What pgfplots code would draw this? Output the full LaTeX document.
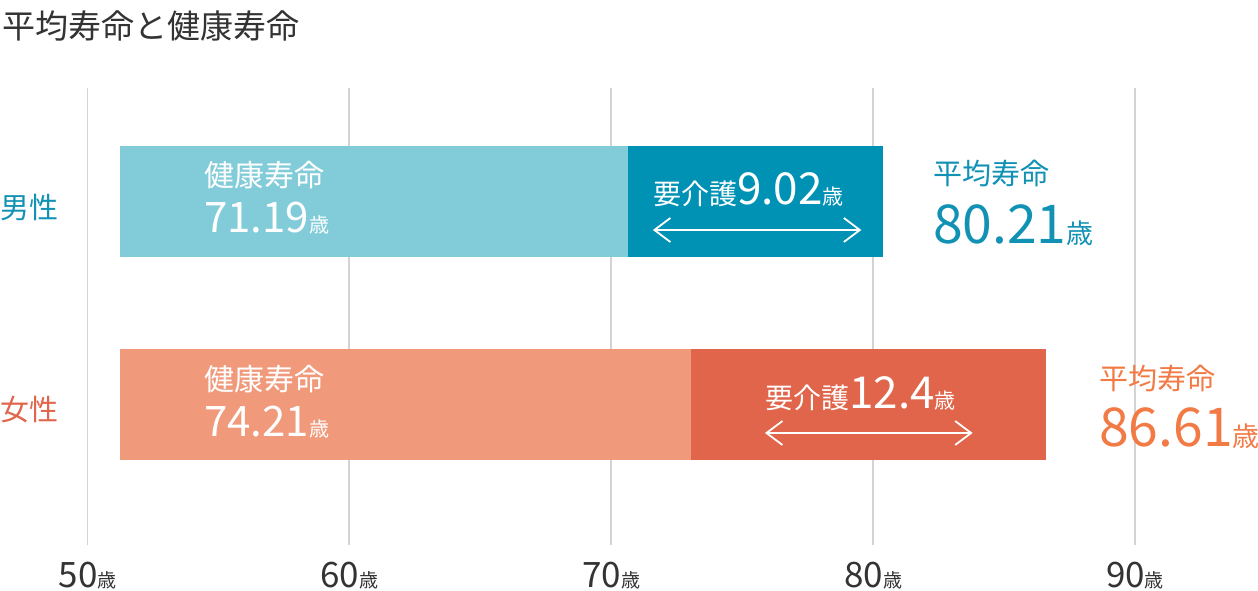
\documentclass[border=0pt]{standalone}
\usepackage{pgfplots}
\pgfplotsset{compat=1.18}
\usepackage{fontspec}
\setmainfont{Noto Sans CJK JP}
\usetikzlibrary{arrows.meta}
\definecolor{mh}{HTML}{82CCDA}
\definecolor{mc}{HTML}{0092B5}
\definecolor{fh}{HTML}{F09A7B}
\definecolor{fc}{HTML}{E0654B}
\definecolor{mtext}{HTML}{1192B5}
\definecolor{ftext}{HTML}{F27A45}
\definecolor{flabel}{HTML}{E0654B}
\definecolor{gridgray}{HTML}{D3D3D3}
\definecolor{darktext}{HTML}{333333}
\newcommand{\fs}[1]{\fontsize{#1pt}{#1pt}\selectfont}
\tikzset{dbl/.style={white, line width=1.8pt, {Straight Barb[length=16pt,width=24pt,line width=1.8pt]}-{Straight Barb[length=16pt,width=24pt,line width=1.8pt]}}}
\begin{document}
\begin{tikzpicture}[x=1pt,y=1pt]
\path[use as bounding box] (0,0) rectangle (1258,590);
\begin{axis}[
  at={(87.5pt,45pt)}, anchor=south west, scale only axis,
  width=1047.5pt, height=457pt,
  xmin=50, xmax=90, ymin=0, ymax=457,
  xbar stacked, bar width=111pt,
  axis line style={draw=none}, major tick length=0pt,
  xtick={50,60,70,80,90},
  xticklabels={{\fs{35}50\fs{19}歳},{\fs{35}60\fs{19}歳},{\fs{35}70\fs{19}歳},{\fs{35}80\fs{19}歳},{\fs{35}90\fs{19}歳}},
  xticklabel style={anchor=base, yshift=-42pt, text=darktext, inner sep=0pt},
  ytick=\empty,
  xmajorgrids, grid style={draw=gridgray, line width=1.8pt},
  clip=false,
]
\addplot[draw=none, fill=none] coordinates {(51.24,343.5) (51.24,140.5)};
\addplot[draw=none, fill=mh] coordinates {(19.40,343.5) (0,140.5)};
\addplot[draw=none, fill=fh] coordinates {(0,343.5) (21.80,140.5)};
\addplot[draw=none, fill=mc] coordinates {(9.73,343.5) (0,140.5)};
\addplot[draw=none, fill=fc] coordinates {(0,343.5) (13.56,140.5)};
% anchor coordinates for the labels
\coordinate (mh1) at (axis cs:54.45,358);
\coordinate (mh2) at (axis cs:54.45,312);
\coordinate (mc1) at (axis cs:71.59,340);
\coordinate (ma1) at (axis cs:71.59,315);
\coordinate (ma2) at (axis cs:79.55,315);
\coordinate (mt1) at (axis cs:82.28,360);
\coordinate (mt2) at (axis cs:82.28,301);
\coordinate (ml) at (axis cs:46.66,326);
\coordinate (fh1) at (axis cs:54.45,155);
\coordinate (fh2) at (axis cs:54.45,109);
\coordinate (fc1) at (axis cs:75.87,137);
\coordinate (fa1) at (axis cs:75.87,112);
\coordinate (fa2) at (axis cs:83.80,112);
\coordinate (ft1) at (axis cs:88.62,156);
\coordinate (ft2) at (axis cs:88.62,99);
\coordinate (fl) at (axis cs:46.66,125);
\end{axis}
% male
\node[anchor=base west, inner sep=0pt, text=white] at (mh1) {\fs{30}健康寿命};
\node[anchor=base west, inner sep=0pt, text=white] at (mh2) {\fs{42}71.19\fs{20}歳};
\node[anchor=base west, inner sep=0pt, text=white] at (mc1) {\fs{28}要介護\fs{44}9.02\fs{21}歳};
\draw[dbl] (ma1) -- (ma2);
\node[anchor=base west, inner sep=0pt, text=mtext] at (mt1) {\fs{29}平均寿命};
\node[anchor=base west, inner sep=0pt, text=mtext] at (mt2) {\fs{53.5}80.21\fs{27}歳};
\node[anchor=base west, inner sep=0pt, text=mtext] at (ml) {\fs{29}男性};
% female
\node[anchor=base west, inner sep=0pt, text=white] at (fh1) {\fs{30}健康寿命};
\node[anchor=base west, inner sep=0pt, text=white] at (fh2) {\fs{42}74.21\fs{20}歳};
\node[anchor=base west, inner sep=0pt, text=white] at (fc1) {\fs{28}要介護\fs{44}12.4\fs{21}歳};
\draw[dbl] (fa1) -- (fa2);
\node[anchor=base west, inner sep=0pt, text=ftext] at (ft1) {\fs{29}平均寿命};
\node[anchor=base west, inner sep=0pt, text=ftext] at (ft2) {\fs{53.5}86.61\fs{27}歳};
\node[anchor=base west, inner sep=0pt, text=flabel] at (fl) {\fs{29}女性};
\node[anchor=base west, inner sep=0pt, text=darktext] at (2,551) {\fs{33}平均寿命と健康寿命};
\end{tikzpicture}
\end{document}
